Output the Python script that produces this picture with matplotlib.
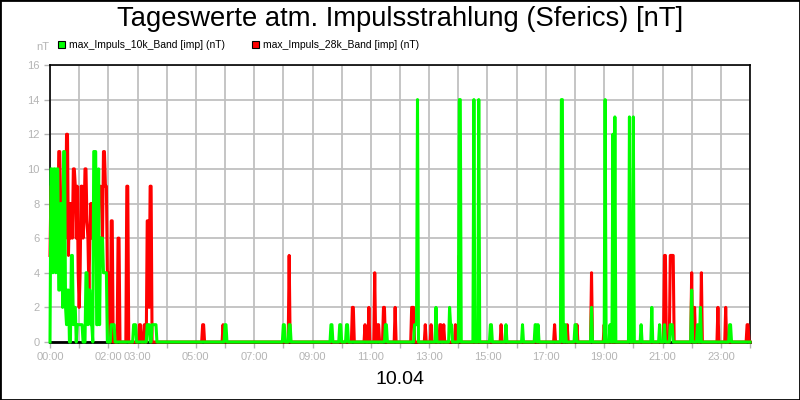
import matplotlib
matplotlib.use("Agg")
import matplotlib.pyplot as plt
from matplotlib.patches import Rectangle
import numpy as np

# --- data: 2-minute samples ---
# dense part 00:00 .. 03:38 (one value every 2 min)
green_early = [0, 10, 10, 4, 10, 10, 4, 10, 10, 3, 3, 8, 8, 2, 11, 11, 2, 1, 3, 3,
               0, 0, 5, 5, 1, 2, 2, 0, 1, 1, 1, 1, 1, 1, 0, 0, 0, 4, 4, 1,
               3, 3, 1, 1, 0, 11, 11, 11, 1, 1, 10, 1, 6, 6, 6, 4, 4, 4, 4, 0,
               0, 0, 0, 1, 1, 1, 1, 0, 0, 0, 0, 0, 0, 0, 0, 0, 0, 0, 0, 0,
               0, 0, 0, 0, 0, 0, 1, 1, 1, 0, 0, 0, 0, 0, 0, 0, 0, 0, 0, 0,
               1, 1, 1, 0, 0, 1, 1, 1, 1, 1]
red_early = [5, 9, 9, 8, 6, 8, 6, 8, 6, 11, 11, 8, 4, 8, 6, 8, 6, 12, 12, 5,
             8, 6, 8, 6, 10, 10, 9, 6, 9, 4, 2, 4, 9, 9, 6, 7, 10, 10, 7, 6,
             3, 6, 8, 6, 8, 6, 9, 6, 9, 9, 8, 8, 9, 8, 6, 11, 11, 9, 9, 4,
             4, 2, 0, 7, 7, 0, 0, 0, 0, 0, 6, 6, 0, 0, 0, 0, 0, 0, 0, 9,
             9, 0, 0, 0, 0, 0, 0, 0, 0, 0, 0, 0, 1, 1, 0, 0, 0, 1, 0, 0,
             7, 7, 2, 9, 9, 0, 0, 0, 0, 0]
# rest of the day: non-zero samples only (minute of day, value)
green_min = [360, 362, 480, 482, 492, 494, 578, 580, 596, 598, 610, 612, 690, 692,
             750, 752, 754, 756, 794, 822, 824, 826, 842, 844, 872, 882, 906, 908,
             938, 972, 998, 1000, 1004, 1052, 1054, 1060, 1080, 1082, 1114, 1142,
             1152, 1158, 1162, 1192, 1200, 1216, 1238, 1254, 1264, 1276, 1278, 1280,
             1320, 1332, 1338, 1398, 1400]
green_val = [1, 1, 1, 1, 1, 1, 1, 1, 1, 1, 1, 1, 1, 1,
             1, 1, 1, 14, 2, 2, 1, 1, 14, 14, 14, 14, 1, 1,
             1, 1, 1, 1, 1, 14, 14, 1, 1, 1, 2, 14,
             1, 12, 13, 13, 13, 1, 2, 1, 1, 1, 1, 1,
             3, 1, 2, 1, 1]
red_min = [314, 316, 356, 492, 622, 624, 648, 656, 668, 674, 676, 686, 688, 710,
           744, 746, 748, 772, 784, 802, 804, 810, 834, 842, 928, 1038, 1056, 1064,
           1084, 1114, 1140, 1192, 1264, 1266, 1276, 1278, 1280, 1282, 1320, 1326,
           1340, 1374, 1390, 1434, 1436]
red_val = [1, 1, 1, 5, 2, 2, 1, 2, 4, 1, 1, 2, 2, 2,
           2, 2, 2, 1, 1, 1, 1, 1, 1, 5, 1, 1, 1, 1,
           1, 4, 1, 3, 5, 5, 5, 5, 5, 5, 4, 2,
           4, 2, 2, 1, 1]

tick_pos = list(range(25))
tick_lab = ["00:00", "", "02:00", "03:00", "", "05:00", "", "07:00", "", "09:00", "", "11:00", "",
            "13:00", "", "15:00", "", "17:00", "", "19:00", "", "21:00", "", "23:00", ""]

t = np.arange(0, 1441, 2) / 60.0


def series(early, mins, vals):
    y = np.zeros(len(t))
    y[:len(early)] = early
    for m, v in zip(mins, vals):
        y[m // 2] = v
    return y


red = series(red_early, red_min, red_val)
green = series(green_early, green_min, green_val)

GR = "#b4b4b4"
fig = plt.figure(figsize=(8, 4), dpi=100)
fig.patches.append(Rectangle((0, 0), 1, 1, transform=fig.transFigure, fill=False, ec="black", lw=2))
ax = fig.add_axes([0.0625, 0.145, 0.875, 0.6925])

ax.plot(t, red, color="#ff0000", lw=2.2, zorder=3, clip_on=False)
ax.plot(t, green, color="#00ff00", lw=2.2, zorder=4, clip_on=False)

ax.set_xlim(0, 24); ax.set_ylim(0, 16)
ax.set_xticks(tick_pos); ax.set_xticklabels(tick_lab, family="Liberation Sans", fontsize=8, color=GR)
ax.set_yticks(range(0, 17, 2)); ax.set_yticklabels([str(v) for v in range(0, 17, 2)], family="Liberation Sans", fontsize=8, color=GR)
ax.tick_params(axis="both", colors=GR, length=4, width=1, labelcolor=GR)
ax.tick_params(axis="x", pad=3)
ax.grid(True, color="#c0c0c0", lw=1.3, zorder=0)
ax.set_axisbelow(True)
for s in ax.spines.values():
    s.set_color("black"); s.set_linewidth(1.2); s.set_zorder(2.5)
ax.spines["bottom"].set_linewidth(2)

fig.text(0.5, 0.952, "Tageswerte atm. Impulsstrahlung (Sferics) [nT]", ha="center", va="center",
         fontsize=19.7, family="Liberation Sans")
fig.text(0.5, 0.052, "10.04", ha="center", va="center", fontsize=14, family="Liberation Sans")
fig.text(0.053, 0.882, "nT", ha="center", va="center", fontsize=8, color=GR, family="Liberation Sans")

# legend
fig.patches.append(Rectangle((58 / 800, 1 - 48 / 400), 7 / 800, 7 / 400, transform=fig.transFigure,
                             fc="#00ff00", ec="black", lw=0.8))
fig.text(69 / 800, 1 - 45 / 400, "max_Impuls_10k_Band [imp] (nT)", va="center", fontsize=7.5, family="Liberation Sans")
fig.patches.append(Rectangle((252 / 800, 1 - 48 / 400), 7 / 800, 7 / 400, transform=fig.transFigure,
                             fc="#ff0000", ec="black", lw=0.8))
fig.text(263 / 800, 1 - 45 / 400, "max_Impuls_28k_Band [imp] (nT)", va="center", fontsize=7.5, family="Liberation Sans")

fig.savefig("out.png", dpi=100)
